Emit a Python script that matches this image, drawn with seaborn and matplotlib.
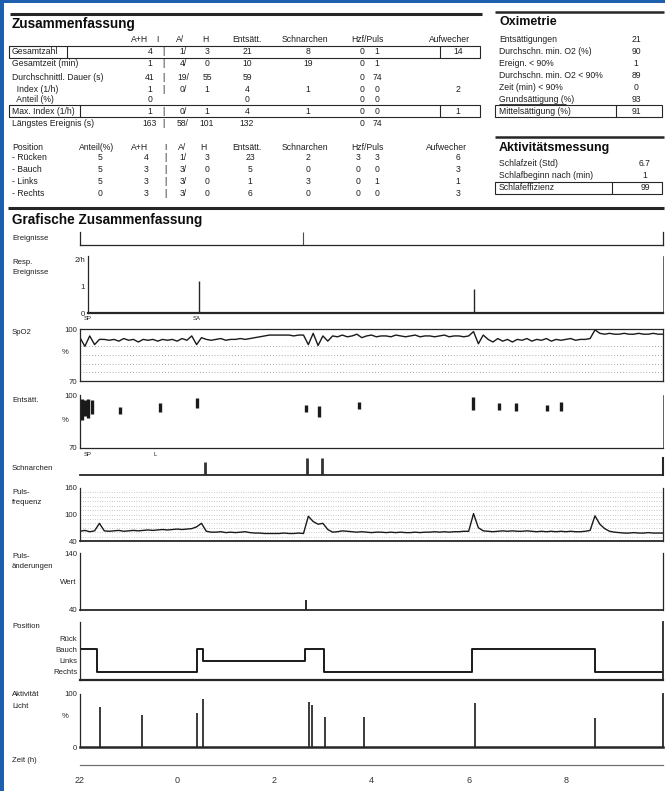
import numpy as np
import pandas as pd
import matplotlib
matplotlib.use("Agg")
import matplotlib.pyplot as plt
import seaborn as sns
from matplotlib.patches import Rectangle

sns.set_style("white")
plt.rcParams['font.family'] = ['Liberation Sans', 'DejaVu Sans']

# ---------------- data ----------------
summary_header = ["A+H", "I", "A/", "H", "Entsätt.", "Schnarchen", "Hzf/Puls", "Aufwecher"]
summary_rows = ["Gesamtzahl", "Gesamtzeit (min)", "Durchschnittl. Dauer (s)", "  Index (1/h)",
                "  Anteil (%)", "Max. Index (1/h)", "Längstes Ereignis (s)"]
summary_vals = [
    ["4", "|", "1/", "3", "21", "8", "0", "1", "14"],
    ["1", "|", "4/", "0", "10", "19", "0", "1", ""],
    ["41", "|", "19/", "55", "59", "", "0", "74", ""],
    ["1", "|", "0/", "1", "4", "1", "0", "0", "2"],
    ["0", "", "", "", "0", "", "0", "0", ""],
    ["1", "|", "0/", "1", "4", "1", "0", "0", "1"],
    ["163", "|", "58/", "101", "132", "", "0", "74", ""],
]
position_header = ["Position", "Anteil(%)", "A+H", "I", "A/", "H", "Entsätt.", "Schnarchen", "Hzf/Puls", "Aufwecher"]
position_rows = ["- Rücken", "- Bauch", "- Links", "- Rechts"]
position_vals = [
    ["5", "4", "|", "1/", "3", "23", "2", "3", "3", "6"],
    ["5", "3", "|", "3/", "0", "5", "0", "0", "0", "3"],
    ["5", "3", "|", "3/", "0", "1", "3", "0", "1", "1"],
    ["0", "3", "|", "3/", "0", "6", "0", "0", "0", "3"],
]
oxi_labels = ["Entsättigungen", "Durchschn. min. O2 (%)", "Ereign. < 90%", "Durchschn. min. O2 < 90%",
              "Zeit (min) < 90%", "Grundsättigung (%)", "Mittelsättigung (%)"]
oxi_values = ["21", "90", "1", "89", "0", "93", "91"]
act_labels = ["Schlafzeit (Std)", "Schlafbeginn nach (min)", "Schlafeffizienz"]
act_values = ["6.7", "1", "99"]

# time axis (hours after 22:00), sampled every 0.1 h
hours = np.round(np.arange(121) * 0.1, 2)
spo2 = [95, 90, 96, 91, 94,
        94, 93.5, 94, 93, 94.5, 93.5, 94, 92.5, 94, 93.5, 94, 93, 94, 93.5, 94, 93, 94.5, 93.5,
        96, 91, 95,
        94, 93.5, 94, 94.5, 93.5, 94, 94, 94.5, 94, 94.5, 95, 95.5, 96,
        96.5, 96.5, 96.5, 96.5, 96.5, 96, 96.5, 96.5,
        91, 97.5, 90.5, 96, 93,
        96, 95.5, 96.5, 95.5, 96, 97, 95, 96, 96.5, 95.5, 96, 96, 95.5, 96.5, 96, 95.5, 96, 96.5,
        95.5, 96, 96, 95.5, 96, 96.5, 95.5, 96, 96, 95.5, 96,
        98.5, 91.5, 96.5,
        94, 92.5, 94.5, 93, 94, 92.5, 94, 93.5, 94.5, 93, 94, 93.5, 94.5, 93, 94, 93.5, 94, 94.5,
        93.5, 94, 94, 94.5,
        99.5,
        97.5, 97, 97.5, 97, 97, 97.5, 97, 97, 97.5, 97, 97, 97.5, 97, 97]
pulse = [62, 64, 61, 63,
         80,
         63, 62, 63, 64, 62, 63, 64, 63, 64, 65, 64, 65, 66, 65, 66, 67, 66, 67,
         68, 72, 80,
         62, 60, 60, 61, 59, 60, 59, 60, 61, 59, 58, 58, 57,
         57, 57, 57, 58, 57, 57, 58, 57,
         96, 84, 78, 80, 66,
         60, 61, 63, 62, 61, 60, 61, 60, 59, 60, 60, 59, 60, 59, 60, 59, 59, 60, 59, 60, 60, 61,
         60, 61, 60, 61, 61, 62, 62,
         102, 70, 63,
         62, 61, 62, 63, 62, 63, 62, 62, 63, 62, 61, 62, 61, 62, 61, 62, 61, 62, 61, 61, 62, 64,
         97,
         78, 68, 62, 60, 59, 58, 58, 59, 58, 58, 59, 58, 58, 58]

event_marks_h = [4.6]
resp_h = [2.45, 8.1]
resp_v = [1.2, 0.9]
desat_h = [0.04, 0.1, 0.17, 0.25, 0.82, 1.65, 2.41, 4.65, 4.92, 5.74, 8.09, 8.62, 8.97, 9.61, 9.9]
desat_hi = [98, 97, 98, 97, 93.2, 95.5, 98.3, 94.3, 93.8, 96, 98.9, 95.5, 95.5, 94.3, 96]
desat_lo = [86, 88, 87, 89, 89.2, 90.4, 92.6, 90.4, 87.5, 92, 91.5, 91.5, 90.9, 90.9, 90.9]
snore_h = [2.57, 4.67, 4.98]
snore_v = [0.75, 1.0, 1.0]
pchange_h = [4.65]
pchange_v = [58]
pos_h = [0, 0.36, 2.41, 2.53, 4.63, 5.02, 8.07, 10.6, 12.0]
pos_lvl = [3, 1, 3, 2, 3, 1, 3, 1, 1]
pos_names = ["Rechts", "Links", "Bauch", "Rück"]
act_h = [0.41, 1.28, 2.41, 2.53, 4.71, 4.77, 5.04, 5.84, 8.13, 10.6]
act_v = [75, 60, 64, 91, 85, 80, 57, 57, 83, 55]
major_hours = [0, 2, 4, 6, 8, 10]
major_labels = ["22", "0", "2", "4", "6", "8"]

# ---------------- figure ----------------
W, H = 665, 791
fig = plt.figure(figsize=(6.65, 7.91), dpi=100)
ov = fig.add_axes([0, 0, 1, 1])
ov.set_xlim(0, W)
ov.set_ylim(H, 0)
ov.axis("off")

FS = 6.2
TFS = 5.6
def txt(x, y, s, size=FS, ha="left", weight="normal", color="0.12"):
    ov.text(x, y, s, fontsize=size, ha=ha, va="center", fontweight=weight, color=color)

def hline(x0, x1, y, lw=1.0, color="0.15"):
    ov.plot([x0, x1], [y, y], color=color, lw=lw, solid_capstyle="butt")

def box(x0, y0, x1, y1, lw=0.8):
    ov.add_patch(Rectangle((x0, y0), x1 - x0, y1 - y0, fill=False, lw=lw, ec="0.15"))

# blue frame of screenshot
ov.add_patch(Rectangle((0, 0), 3.5, H, color="#1d5eae", lw=0))
ov.add_patch(Rectangle((0, 0), W, 3, color="#1d5eae", lw=0))

# ---- Zusammenfassung ----
hline(10, 482, 14, lw=2.2)
txt(12, 24, "Zusammenfassung", size=9.8, weight="bold", color="0.05")
hx = [140, 157, 180, 205, 247, 305, 367, 450]
for x, s in zip(hx, summary_header):
    txt(x, 40, s, ha="center")
for x0, x1 in [(229, 265), (280, 330), (345, 390), (398, 474)]:
    hline(x0, x1, 45.5, lw=0.7)
vx = [150, 163, 183, 207, 247, 308, 362, 377, 458]
row_y = [52, 64, 77, 89, 100, 111, 124]
for ry, lab, vals in zip(row_y, summary_rows, summary_vals):
    txt(12, ry, lab)
    for x, v in zip(vx, vals):
        txt(x, ry, v, ha="center")
for ry in (52, 111):
    box(9, ry - 6, 480, ry + 6)
    ov.plot([440, 440], [ry - 6, ry + 6], color="0.15", lw=0.8)
ov.plot([67, 67], [46, 58], color="0.15", lw=0.8)
ov.plot([80, 80], [105, 117], color="0.15", lw=0.8)

px = [12, 97, 140, 165, 182, 203, 247, 305, 367, 447]
for x, s in zip(px, position_header):
    txt(x, 147, s, ha="left" if x == 12 else "center")
pvx = [100, 146, 165, 183, 207, 250, 308, 358, 377, 458]
for ry, lab, vals in zip([158, 170, 182, 194], position_rows, position_vals):
    txt(12, ry, lab)
    for x, v in zip(pvx, vals):
        txt(x, ry, v, ha="center")

# ---- Oximetrie ----
hline(495, 664, 12, lw=1.8)
txt(499, 22, "Oximetrie", size=9, weight="bold", color="0.05")
for ry, lab, v in zip([40, 52, 63, 75, 87, 99, 111], oxi_labels, oxi_values):
    txt(499, ry, lab)
    txt(636, ry, v, ha="center")
box(495, 105, 662, 117)
ov.plot([616, 616], [105, 117], color="0.15", lw=0.8)
hline(499, 566, 104, lw=0.6)

# ---- Aktivitätsmessung ----
hline(495, 664, 137, lw=1.8)
txt(499, 148, "Aktivitätsmessung", size=9, weight="bold", color="0.05")
for ry, lab, v in zip([164, 176, 188], act_labels, act_values):
    txt(499, ry, lab)
    txt(645, ry, v, ha="center")
box(495, 182, 662, 194)
ov.plot([612, 612], [182, 194], color="0.15", lw=0.8)

# ---- Grafische Zusammenfassung ----
hline(8, 664, 208, lw=2.2)
txt(12, 220, "Grafische Zusammenfassung", size=9.8, weight="bold", color="0.05")

X0, X1, XMAX = 80, 663, 12.0
PXH = (X1 - X0) / XMAX

def panel(y0, y1, x0=X0):
    ax = fig.add_axes([x0 / W, 1 - y1 / H, (X1 - x0) / W, (y1 - y0) / H])
    ax.set_facecolor("none")
    ax.set_xlim((x0 - X0) / PXH, XMAX)
    ax.set_xticks([])
    for s in ax.spines.values():
        s.set_color("0.15")
        s.set_linewidth(0.9)
    ax.tick_params(axis="y", labelsize=TFS, length=0, pad=2, colors="0.15")
    return ax

def finish(ax):
    ax.set_xlabel("")
    ax.set_ylabel("")
    if ax.get_legend() is not None:
        ax.get_legend().remove()

# Ereignisse
ax = panel(232, 245)
ax.set_ylim(0, 1)
ax.set_yticks([])
ax.spines["top"].set_visible(False)
ax.vlines(event_marks_h, 0, 1, color="0.3", lw=0.8)
txt(12, 238, "Ereignisse", size=TFS)

# Resp. Ereignisse
ax = panel(256, 313, x0=88)
ax.set_ylim(0, 2.15)
ax.set_yticks([0, 1, 2])
ax.set_yticklabels(["0", "1", "2/h"])
ax.spines["top"].set_visible(False)
ax.spines["bottom"].set_linewidth(1.6)
ax.spines["right"].set_linewidth(0.5)
ax.vlines(resp_h, 0, resp_v, color="0.15", lw=1.0)
txt(12, 262, "Resp.", size=TFS)
txt(12, 272, "Ereignisse", size=TFS)
txt(193, 318, "SA", size=4.2)
txt(84, 318, "SP", size=4.2)

# SpO2
ax = panel(329, 381)
for v in [75, 80, 85, 90]:
    ax.axhline(v, color="0.55", lw=0.6, ls=(0, (1, 2.5)))
sns.lineplot(x=hours, y=spo2, ax=ax, color="0.1", lw=1.0)
ax.set_ylim(70, 100)
ax.set_yticks([70, 100])
finish(ax)
txt(12, 333, "SpO2", size=TFS)
txt(62, 353, "%", size=TFS)

# Entsättigung
ax = panel(395, 448)
ax.set_ylim(70, 100)
ax.set_yticks([70, 100])
ax.spines["top"].set_visible(False)
ax.spines["right"].set_linewidth(0.5)
ax.vlines(desat_h, desat_lo, desat_hi, color="0.1", lw=2.4)
txt(12, 400, "Entsätt.", size=TFS)
txt(62, 420, "%", size=TFS)
txt(84, 455, "SP", size=4.2)
txt(153, 455, "L", size=4.2)

# Schnarchen
ax = panel(458, 475)
ax.set_ylim(0, 1)
ax.set_yticks([])
ax.spines["top"].set_visible(False)
ax.spines["left"].set_visible(False)
ax.spines["bottom"].set_linewidth(1.3)
ax.spines["right"].set_linewidth(1.5)
ax.vlines(snore_h, 0, snore_v, color="0.2", lw=2.0)
txt(12, 468, "Schnarchen", size=TFS)

# Pulsfrequenz
ax = panel(488, 541)
for v in range(50, 160, 10):
    ax.axhline(v, color="0.6", lw=0.5, ls=(0, (1, 2.5)))
sns.lineplot(x=hours, y=pulse, ax=ax, color="0.1", lw=1.0)
ax.set_ylim(40, 160)
ax.set_yticks([40, 100, 160])
ax.spines["top"].set_visible(False)
ax.spines["bottom"].set_linewidth(1.3)
finish(ax)
txt(12, 492, "Puls-", size=TFS)
txt(12, 502, "frequenz", size=TFS)

# Pulsänderungen
ax = panel(553, 610)
ax.set_ylim(40, 140)
ax.set_yticks([40, 140])
ax.spines["top"].set_visible(False)
ax.spines["bottom"].set_linewidth(1.3)
ax.vlines(pchange_h, 40, pchange_v, color="0.1", lw=1.3)
txt(12, 557, "Puls-", size=TFS)
txt(12, 567, "änderungen", size=TFS)
txt(60, 583, "Wert", size=TFS)

# Position
ax = panel(622, 680)
sns.lineplot(x=pos_h, y=pos_lvl, ax=ax, color="0.1", lw=1.4, drawstyle="steps-post")
ax.set_xlim(0, XMAX)
ax.set_ylim(0.29, 5.42)
ax.set_yticks([1, 2, 3, 4])
ax.set_yticklabels(pos_names)
ax.spines["top"].set_visible(False)
ax.spines["bottom"].set_linewidth(1.6)
ax.spines["right"].set_linewidth(1.3)
finish(ax)
txt(12, 627, "Position", size=TFS)

# Aktivität / Licht
ax = panel(694, 747)
ax.set_ylim(0, 100)
ax.set_yticks([0, 100])
ax.spines["top"].set_visible(False)
ax.spines["bottom"].set_linewidth(1.8)
ax.spines["right"].set_linewidth(1.3)
ax.vlines(act_h, 0, act_v, color="0.1", lw=1.2)
txt(12, 695, "Aktivität", size=TFS)
txt(12, 706, "Licht", size=TFS)
txt(62, 716, "%", size=TFS)

# Zeit axis
ax = fig.add_axes([X0 / W, 1 - 765 / H, (X1 - X0) / W, 6 / H])
ax.set_facecolor("none")
ax.set_xlim(0, XMAX)
ax.set_yticks([])
for s in ["top", "left", "right"]:
    ax.spines[s].set_visible(False)
ax.spines["bottom"].set_color("0.45")
ax.spines["bottom"].set_linewidth(0.9)
ax.set_xticks(major_hours)
ax.set_xticklabels(major_labels)
ax.set_xticks([1, 3, 5, 7, 9, 11], minor=True)
ax.tick_params(axis="x", which="major", labelsize=6.5, length=4, direction="inout",
               pad=6, colors="0.2")
ax.tick_params(axis="x", which="minor", length=5, direction="inout", colors="0.45")
txt(12, 760, "Zeit (h)", size=TFS)

fig.savefig("out.png", dpi=100, facecolor="white")
